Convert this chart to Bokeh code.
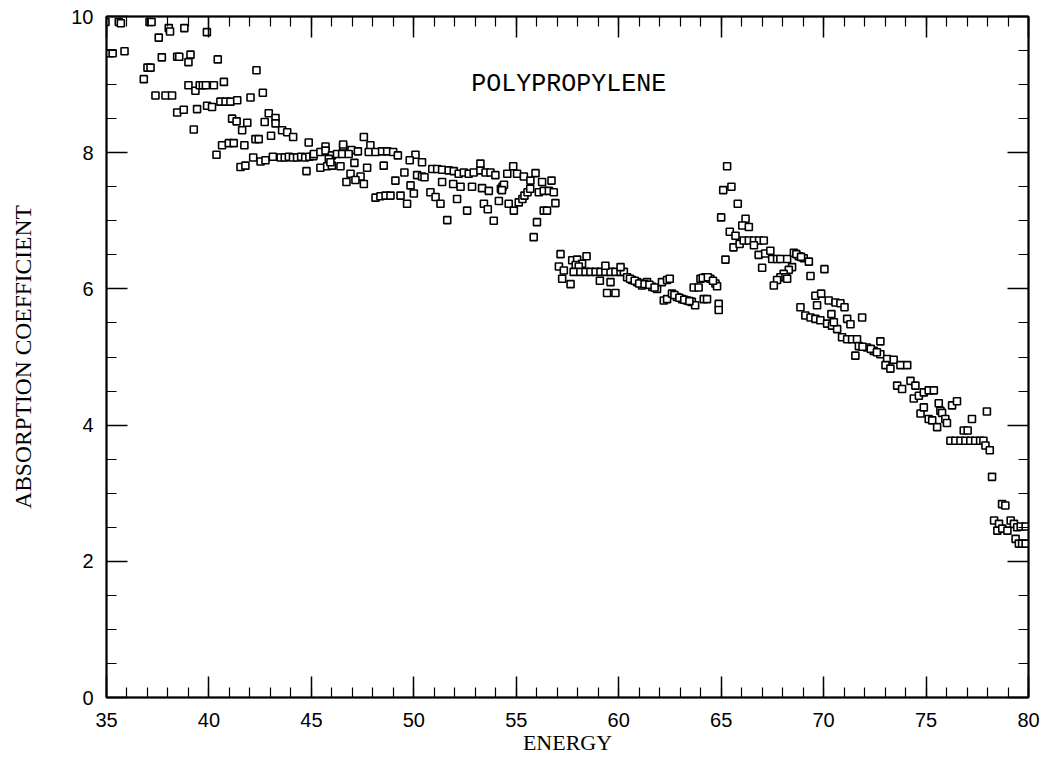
from bokeh.plotting import figure
from bokeh.models import Range1d, FixedTicker, LinearAxis, Label, ColumnDataSource
from bokeh.embed import file_html
from bokeh.resources import INLINE

# ---------------- data ----------------
energy_35_45 = [34.95, 35.6, 35.7, 37.1, 37.2, 38.04, 38.1, 38.8, 37.55, 39.9,
                35.16, 35.3, 35.88, 37.7, 38.45, 38.55, 39.1, 39.0, 40.43,
                37.0, 37.15, 36.82, 42.32,
                39.0, 39.34, 39.55, 39.7, 39.85, 40.24, 40.73,
                37.39, 37.88, 38.2, 38.45, 38.77, 39.42, 39.91, 40.15, 40.56, 40.81, 41.05, 41.38, 42.03, 42.63,
                39.26, 41.13, 41.35, 41.87, 41.62, 42.72, 42.92, 43.25, 43.25, 43.57, 43.82, 44.11, 43.03,
                42.27, 42.43, 41.73, 40.64, 40.97, 41.21, 40.37, 41.54, 41.78, 42.16, 42.52, 42.76, 43.12,
                43.5, 43.7, 43.9, 44.1, 44.3, 44.5, 44.7, 44.9, 45.1]
coef_35_45 = [9.92, 9.92, 9.90, 9.92, 9.92, 9.83, 9.78, 9.83, 9.69, 9.77,
              9.46, 9.46, 9.49, 9.40, 9.41, 9.41, 9.44, 9.33, 9.37,
              9.25, 9.25, 9.08, 9.21,
              8.99, 8.91, 8.99, 8.99, 8.99, 8.99, 9.04,
              8.84, 8.84, 8.84, 8.59, 8.63, 8.64, 8.69, 8.67, 8.75, 8.75, 8.75, 8.77, 8.81, 8.88,
              8.34, 8.50, 8.46, 8.44, 8.33, 8.45, 8.58, 8.51, 8.43, 8.33, 8.30, 8.23, 8.25,
              8.20, 8.20, 8.11, 8.11, 8.14, 8.14, 7.97, 7.79, 7.81, 7.93, 7.87, 7.89, 7.94,
              7.93, 7.93, 7.94, 7.93, 7.93, 7.94, 7.93, 7.94, 7.95]

energy_45_57 = [44.87, 45.69, 47.56, 46.55, 46.55, 46.96, 47.27, 47.88, 47.8, 48.13, 48.45, 48.7, 48.99, 49.22,
                50.08, 49.8, 50.4,
                45.12, 45.44, 45.69, 46.0, 46.25, 46.5, 46.82, 45.44, 45.77, 46.0, 46.42, 45.85, 45.93,
                44.76, 47.1, 47.72, 48.53, 46.91, 47.4, 46.71, 47.15, 47.56, 49.1, 49.54, 49.84, 50.0,
                48.13, 48.37, 48.62, 48.86, 49.35, 49.67,
                50.16, 50.40, 50.52,
                50.9, 51.14, 51.38, 51.7, 51.95, 52.19, 52.44, 52.68, 52.92, 53.25, 53.25, 53.5, 53.74, 53.98,
                51.38, 51.92, 52.28, 52.84, 53.33, 53.66,
                50.81, 51.06, 51.3, 52.11, 52.6, 51.63, 53.42, 53.61, 53.9, 54.15,
                54.25, 54.33, 54.4, 54.3,
                54.56, 54.85, 55.04, 55.37, 55.69, 55.94, 56.26, 56.72,
                54.63, 54.88, 55.12, 55.3, 55.4, 55.55, 55.68,
                56.1, 56.34, 56.59, 56.83, 56.91, 56.34, 56.5, 56.01, 55.85]
coef_45_57 = [8.15, 8.09, 8.23, 8.09, 8.12, 8.04, 8.02, 8.11, 8.01, 8.01, 8.02, 8.02, 8.01, 7.96,
              7.97, 7.89, 7.86,
              7.98, 8.01, 8.03, 7.96, 7.98, 7.98, 7.98, 7.78, 7.80, 7.81, 7.80, 7.91, 7.86,
              7.73, 7.85, 7.78, 7.81, 7.69, 7.65, 7.57, 7.60, 7.54, 7.59, 7.71, 7.52, 7.40,
              7.34, 7.36, 7.37, 7.37, 7.37, 7.25,
              7.67, 7.65, 7.64,
              7.76, 7.76, 7.75, 7.74, 7.73, 7.69, 7.71, 7.69, 7.71, 7.74, 7.84, 7.71, 7.71, 7.67,
              7.57, 7.54, 7.50, 7.50, 7.48, 7.44,
              7.42, 7.35, 7.25, 7.32, 7.15, 7.01, 7.25, 7.17, 7.00, 7.29,
              7.47, 7.50, 7.53, 7.45,
              7.69, 7.80, 7.69, 7.65, 7.59, 7.70, 7.57, 7.59,
              7.25, 7.15, 7.27, 7.32, 7.37, 7.42, 7.47,
              7.42, 7.44, 7.44, 7.42, 7.26, 7.15, 7.15, 6.98, 6.76]

energy_57_65 = [57.16, 57.08, 57.32, 57.24, 57.65, 57.73, 57.97, 58.21, 58.43, 57.9, 58.05,
                57.8, 58.13, 58.38, 58.62, 58.87, 59.11, 59.35, 59.6, 59.84, 60.09, 60.25,
                59.35, 60.09, 59.08, 59.6, 59.43, 59.84,
                60.41, 60.65, 60.9, 61.14, 61.38, 61.63, 61.87, 62.11, 62.36, 62.49,
                60.55, 60.78, 61.0, 61.26, 61.5, 61.75,
                62.2, 62.36,
                62.6, 62.84, 63.09, 63.33, 63.57, 63.73, 62.72, 62.96, 63.2, 63.45,
                63.66, 63.9, 64.15, 64.31,
                63.99, 64.23, 64.47, 64.72, 64.8, 64.1, 64.35, 64.6,
                64.88, 64.88]
coef_57_65 = [6.51, 6.33, 6.27, 6.15, 6.07, 6.42, 6.43, 6.37, 6.48, 6.35, 6.33,
              6.25, 6.25, 6.25, 6.25, 6.25, 6.25, 6.25, 6.25, 6.25, 6.25, 6.25,
              6.34, 6.32, 6.12, 6.10, 5.94, 5.94,
              6.17, 6.13, 6.10, 6.05, 6.10, 6.03, 6.00, 6.10, 6.13, 6.15,
              6.15, 6.12, 6.08, 6.07, 6.06, 6.02,
              5.83, 5.85,
              5.93, 5.88, 5.85, 5.83, 5.81, 5.76, 5.91, 5.87, 5.84, 5.82,
              6.02, 6.02, 5.85, 5.85,
              6.15, 6.17, 6.15, 6.08, 6.04, 6.16, 6.17, 6.12,
              5.78, 5.69]

energy_65_80 = [65.29, 65.1, 65.5, 65.81, 65.0, 66.19, 66.03, 66.35, 65.42, 65.7, 65.6, 65.9,
                66.1, 66.35, 66.6, 66.85, 67.08, 66.6, 65.21,
                66.83, 67.15, 67.4, 67.49, 67.73, 67.89, 68.22, 67.0,
                68.55, 68.79, 69.03, 69.28, 68.67, 68.9,
                68.46, 68.3, 68.05, 67.89, 67.73, 67.57, 68.14, 68.22, 69.36, 70.04,
                68.87, 69.6, 69.88, 69.68, 70.25, 70.58, 70.82, 71.02,
                69.11, 69.36, 69.6, 69.84, 70.17, 70.41, 70.66, 70.9, 71.15, 71.39, 71.63,
                70.38, 70.5, 71.15, 71.31, 71.88, 71.55,
                71.72, 72.12, 72.45, 72.77, 73.1, 73.42, 71.9, 72.3, 72.6,
                72.77, 73.02, 73.26, 73.75, 74.08,
                73.59, 73.83, 74.24, 74.48, 74.4, 74.65, 74.89, 75.13, 75.38,
                74.73, 74.89, 75.13, 75.3, 75.54, 75.62,
                75.7, 75.78, 75.94, 76.02, 76.27, 76.51, 77.24, 77.97, 76.84, 77.03,
                76.19, 76.43, 76.68, 76.92, 77.16, 77.4, 77.64, 77.8,
                77.9, 78.11, 78.22, 78.71, 78.87,
                78.32, 78.56, 78.48, 78.72, 78.97, 79.13, 79.29, 79.45, 79.62, 79.86,
                79.37, 79.53, 79.69, 79.86]
coef_65_80 = [7.80, 7.45, 7.50, 7.25, 7.05, 7.03, 6.93, 6.91, 6.84, 6.78, 6.61, 6.66,
              6.71, 6.71, 6.71, 6.71, 6.71, 6.64, 6.43,
              6.50, 6.52, 6.56, 6.44, 6.44, 6.44, 6.44, 6.31,
              6.53, 6.48, 6.45, 6.40, 6.51, 6.47,
              6.32, 6.28, 6.22, 6.17, 6.13, 6.05, 6.17, 6.15, 6.19, 6.29,
              5.73, 5.90, 5.93, 5.76, 5.83, 5.80, 5.79, 5.73,
              5.61, 5.58, 5.56, 5.54, 5.49, 5.46, 5.41, 5.29, 5.26, 5.26, 5.26,
              5.63, 5.51, 5.56, 5.48, 5.58, 5.02,
              5.16, 5.14, 5.09, 5.04, 4.97, 4.96, 5.15, 5.12, 5.07,
              5.23, 4.88, 4.83, 4.88, 4.88,
              4.58, 4.53, 4.65, 4.58, 4.39, 4.43, 4.48, 4.51, 4.51,
              4.17, 4.26, 4.09, 4.07, 3.97, 4.32,
              4.21, 4.18, 4.09, 4.03, 4.29, 4.35, 4.09, 4.20, 3.92, 3.92,
              3.77, 3.77, 3.77, 3.77, 3.77, 3.77, 3.77, 3.77,
              3.70, 3.63, 3.24, 2.84, 2.82,
              2.60, 2.55, 2.45, 2.48, 2.45, 2.60, 2.55, 2.50, 2.51, 2.51,
              2.33, 2.26, 2.26, 2.26]

x_major = [35, 40, 45, 50, 55, 60, 65, 70, 75, 80]
x_minor = list(range(35, 81))
y_major = [0, 2, 4, 6, 8, 10]
y_minor = [i * 0.5 for i in range(0, 21)]
title_text = "POLYPROPYLENE"
x_title = "ENERGY"
y_title = "ABSORPTION COEFFICIENT"

energy = energy_35_45 + energy_45_57 + energy_57_65 + energy_65_80
coef = coef_35_45 + coef_45_57 + coef_57_65 + coef_65_80
src = ColumnDataSource(data=dict(x=energy, y=coef))

# ---------------- figure ----------------
p = figure(frame_width=922, frame_height=681, output_backend="svg", toolbar_location=None,
           x_range=Range1d(35, 80), y_range=Range1d(0, 10),
           min_border_left=106, min_border_right=15, min_border_top=16, min_border_bottom=59,
           background_fill_color="white", border_fill_color="white")
p.grid.visible = False
p.outline_line_color = "black"
p.outline_line_width = 1.5

p.scatter("x", "y", source=src, marker="square", size=7,
          line_color="black", fill_color="white", line_width=1.6)


def style_axis(ax, ticks, minor, show_labels):
    ax.ticker = FixedTicker(ticks=ticks, minor_ticks=minor)
    ax.axis_line_color = "black"
    ax.axis_line_width = 2
    ax.major_tick_in = 21
    ax.major_tick_out = 0
    ax.minor_tick_in = 10
    ax.minor_tick_out = 0
    ax.major_tick_line_color = "black"
    ax.major_tick_line_width = 1.5
    ax.minor_tick_line_color = "black"
    ax.minor_tick_line_width = 1.2
    if show_labels:
        ax.major_label_text_font = "Liberation Sans"
        ax.major_label_text_font_size = "20px"
        ax.major_label_text_color = "black"
    else:
        ax.major_label_overrides = {t: "" for t in ticks}
        ax.major_label_text_font_size = "0px"
        ax.major_label_standoff = 0


style_axis(p.xaxis[0], x_major, x_minor, True)
style_axis(p.yaxis[0], y_major, y_minor, True)
p.xaxis[0].major_label_standoff = 15
p.yaxis[0].major_label_standoff = 13

for ax in (p.xaxis[0], p.yaxis[0]):
    ax.axis_label_text_font = "Liberation Serif"
    ax.axis_label_text_font_style = "normal"
    ax.axis_label_text_color = "black"
p.xaxis[0].axis_label_text_font_size = "22px"
p.yaxis[0].axis_label_text_font_size = "23.5px"
p.xaxis[0].axis_label = x_title
p.yaxis[0].axis_label = y_title
p.xaxis[0].axis_label_standoff = 0
p.yaxis[0].axis_label_standoff = 32

top = LinearAxis()
style_axis(top, x_major, x_minor, False)
p.add_layout(top, "above")
right = LinearAxis()
style_axis(right, y_major, y_minor, False)
p.add_layout(right, "right")

p.add_layout(Label(x=52.8, y=9.0, text=title_text, text_font="Liberation Mono",
                   text_font_size="25px", text_baseline="middle", text_align="left",
                   text_color="black"))

open("out.html", "w").write(file_html(p, INLINE))
